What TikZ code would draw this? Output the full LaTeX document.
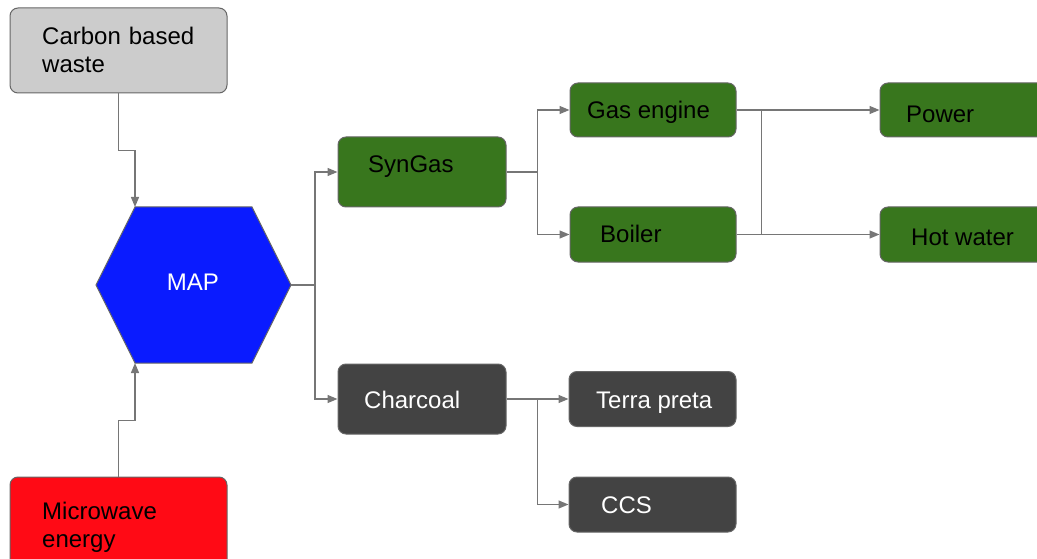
\documentclass[tikz,border=0pt]{standalone}
\usepackage{fontspec}
\setmainfont{Liberation Sans}
\usetikzlibrary{arrows.meta,calc}
\definecolor{wastegray}{HTML}{CCCCCC}
\definecolor{bordergray}{HTML}{666666}
\definecolor{linegray}{HTML}{767676}
\definecolor{leafgreen}{HTML}{38761D}
\definecolor{coalgray}{HTML}{434343}
\definecolor{mapblue}{HTML}{0A1BFF}
\definecolor{mwred}{HTML}{FF0A15}
\begin{document}
\begin{tikzpicture}[x=1pt,y=-1pt,
  box/.style={draw=bordergray, line width=1pt, rounded corners=8pt, inner sep=0pt},
  txt/.style={inner sep=0pt, anchor=base west, font=\fontsize{24}{28}\selectfont},
  mtxt/.style={txt, text width=190pt, align=left},
  conn/.style={draw=linegray, line width=1.3pt, -{Triangle[length=10pt,width=8pt]}, fill=none},
  plain/.style={draw=linegray, line width=1.3pt}
]
\useasboundingbox (0,0) rectangle (1037,559);

% boxes
\node[box, fill=wastegray, minimum width=217pt, minimum height=85pt] (waste) at (118.5,50.5) {};
\node[box, fill=mwred, minimum width=217pt, minimum height=93pt] (micro) at (118.5,523.5) {};
\node[box, fill=leafgreen, minimum width=168pt, minimum height=70pt] (syngas) at (422,172) {};
\node[box, fill=coalgray, minimum width=168pt, minimum height=70pt] (charcoal) at (422,399) {};
\node[box, fill=leafgreen, minimum width=166pt, minimum height=54pt] (gas) at (653,110) {};
\node[box, fill=leafgreen, minimum width=166pt, minimum height=55pt] (boiler) at (653,234.5) {};
\node[box, fill=coalgray, minimum width=167pt, minimum height=55pt] (terra) at (652.5,399) {};
\node[box, fill=coalgray, minimum width=167pt, minimum height=55pt] (ccs) at (652.5,504.5) {};
\node[box, fill=leafgreen, minimum width=166pt, minimum height=54pt] (power) at (963,110) {};
\node[box, fill=leafgreen, minimum width=166pt, minimum height=55pt] (hot) at (963,234.5) {};

% hexagon
\coordinate (hexL) at (96,285);
\coordinate (hexTL) at (135,207);
\coordinate (hexTR) at (252,207);
\coordinate (hexR) at (291,285);
\coordinate (hexBR) at (252,363);
\coordinate (hexBL) at (135,363);
\draw[fill=mapblue, draw=bordergray, line width=1pt] (hexL) -- (hexTL) -- (hexTR) -- (hexR) -- (hexBR) -- (hexBL) -- cycle;

% texts
\node[mtxt] (waste-t) at (42,45) {Carbon based\\waste};
\node[mtxt] (micro-t) at (42,519) {Microwave\\energy};
\node[txt, white, anchor=base] (map) at (193,290) {MAP};
\node[txt] (syngas-t) at (368,173) {SynGas};
\node[txt, white] (charcoal-t) at (364,408) {Charcoal};
\node[txt] (gas-t) at (587,119) {Gas engine};
\node[txt] (boiler-t) at (600,243) {Boiler};
\node[txt, white] (terra-t) at (596,408) {Terra preta};
\node[txt, white] (ccs-t) at (601,513) {CCS};
\node[txt] (power-t) at (906,123) {Power};
\node[txt] (hot-t) at (911,245) {Hot water};

% connectors
\draw[conn] (waste.south) -- ++(0,57) -| (hexTL);
\draw[conn] (micro.north) -- ++(0,-56) -| (hexBL);
\draw[conn] (hexR) -- ++(24,0) |- (syngas.west);
\draw[conn] (hexR) -- ++(24,0) |- (charcoal.west);
\draw[conn] (syngas.east) -- ++(31,0) |- (gas.west);
\draw[conn] (syngas.east) -- ++(31,0) |- (boiler.west);
\draw[conn] (gas.east) -- (power.west);
\draw[conn] (boiler.east) -- (hot.west);
\draw[plain] ($(gas.east)+(25,0)$) -- ($(boiler.east)+(25,0)$);
\draw[conn] (charcoal.east) -- (terra.west);
\draw[conn] (charcoal.east) -- ++(31,0) |- (ccs.west);
\end{tikzpicture}
\end{document}
